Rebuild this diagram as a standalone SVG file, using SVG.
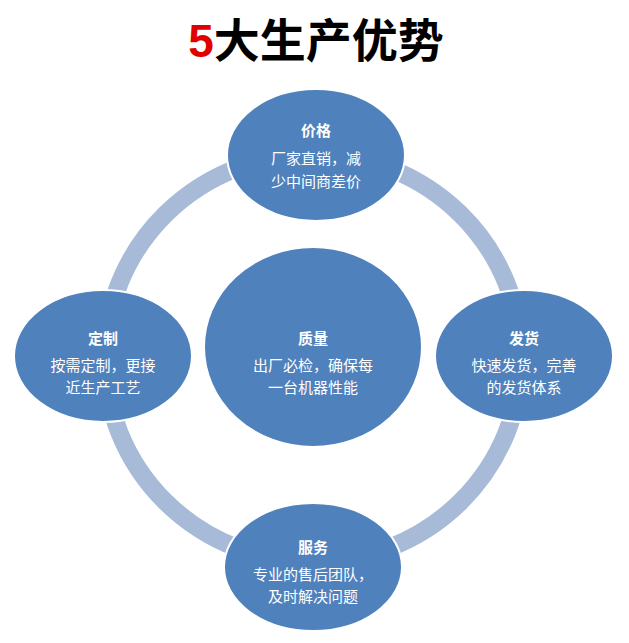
<svg xmlns="http://www.w3.org/2000/svg" width="629" height="643" viewBox="0 0 629 643">
<style>
.n{fill:#4f81bd;stroke:#fff;stroke-width:2}
.t{font-family:"Liberation Sans","Noto Sans CJK SC",sans-serif;fill:#fff;font-size:15px;text-anchor:middle}
.b{font-weight:bold}
</style>
<rect width="629" height="643" fill="#fff"/>
<text x="316" y="57" text-anchor="middle" font-family="Liberation Sans,'Noto Sans CJK SC',sans-serif" font-size="46" font-weight="bold"><tspan fill="#e00000">5</tspan><tspan fill="#000">大生产优势</tspan></text>
<g id="connectors">
<ellipse cx="313" cy="358" rx="208" ry="204" fill="none" stroke="#fff" stroke-width="22"/>
<ellipse cx="313" cy="358" rx="208" ry="204" fill="none" stroke="#a7bbd9" stroke-width="18"/>
</g>
<g id="price"><ellipse class="n" cx="316" cy="155" rx="89" ry="66"/>
<text class="t b" x="316" y="136">价格</text><text class="t" x="316" y="164">厂家直销，减</text><text class="t" x="316" y="187">少中间商差价</text></g>
<g id="custom"><ellipse class="n" cx="103" cy="356" rx="89" ry="66"/>
<text class="t b" x="103" y="344">定制</text><text class="t" x="103" y="371">按需定制，更接</text><text class="t" x="103" y="393">近生产工艺</text></g>
<g id="quality"><ellipse class="n" cx="313" cy="347" rx="109" ry="100"/>
<text class="t b" x="313" y="344">质量</text><text class="t" x="313" y="371">出厂必检，确保每</text><text class="t" x="313" y="393">一台机器性能</text></g>
<g id="ship"><ellipse class="n" cx="524" cy="356" rx="89" ry="66"/>
<text class="t b" x="524" y="344">发货</text><text class="t" x="524" y="371">快速发货，完善</text><text class="t" x="524" y="393">的发货体系</text></g>
<g id="service"><ellipse class="n" cx="313" cy="567" rx="89" ry="64"/>
<text class="t b" x="313" y="553">服务</text><text class="t" x="313" y="580">专业的售后团队，</text><text class="t" x="313" y="602">及时解决问题</text></g>
</svg>
